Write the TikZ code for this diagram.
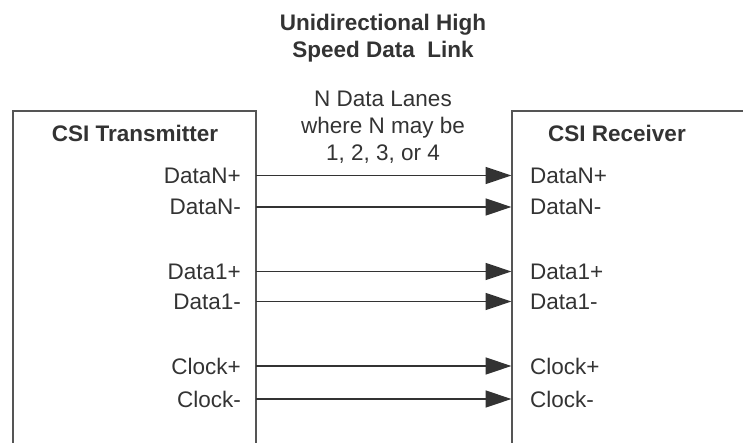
\documentclass[tikz,border=0pt]{standalone}
\usepackage{fontspec}
\setmainfont{Liberation Sans}
\usetikzlibrary{arrows.meta}
\definecolor{ink}{HTML}{333333}
\definecolor{edge}{HTML}{555555}
\begin{document}
\begin{tikzpicture}[x=1pt,y=-1pt,
  txt/.style={font=\fontsize{22.5}{27}\selectfont, text=ink, inner sep=0pt},
  head/.style={txt, font=\fontsize{22.5}{27}\selectfont\bfseries},
  pinl/.style={txt, anchor=east},
  pinr/.style={txt, anchor=west},
  lane/.style={draw=ink, line width=1.3pt, -{Triangle[length=26pt,width=17pt]}},
  boxline/.style={draw=edge, line width=1.3pt}]
\useasboundingbox (0,0) rectangle (743,443);

% open-bottom blocks
\draw[boxline] (13,445) -- (13,111) -- (256,111) -- (256,445);
\draw[boxline] (512,445) -- (512,111) -- (745,111);

% headings
\node[head] (title1) at (383,25) {Unidirectional High};
\node[head] (title2) at (383,52) {Speed Data\ \ Link};
\node[txt, align=center] (note) at (383,127) {N Data Lanes\\where N may be\\1, 2, 3, or 4};
\node[head] (tx) at (135,133) {CSI Transmitter};
\node[head] (rx) at (617,133) {CSI Receiver};

% lanes
\foreach \nm/\lbl/\yy in {dnp/DataN+/175.5, dnm/DataN-/207,
                          dap/Data1+/271.5, dam/Data1-/301.5,
                          ckp/Clock+/366, ckm/Clock-/399}{
  \coordinate (\nm-a) at (256,\yy);
  \coordinate (\nm-b) at (511.5,\yy);
  \node[pinl] (\nm-t) at (241,\yy) {\lbl};
  \node[pinr] (\nm-r) at (530,\yy) {\lbl};
  \draw[lane] (\nm-a) -- (\nm-b);
}
\end{tikzpicture}
\end{document}
